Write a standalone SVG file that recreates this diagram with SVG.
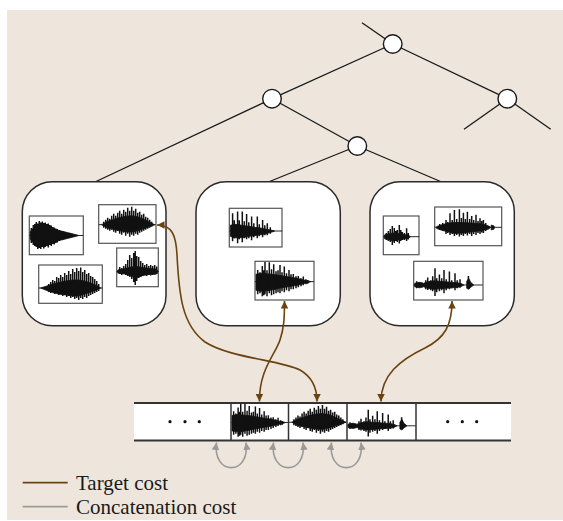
<svg xmlns="http://www.w3.org/2000/svg" xmlns:xlink="http://www.w3.org/1999/xlink" width="563" height="521" viewBox="0 0 563 521">
  <style>
    .edge { stroke: #1a1a1a; stroke-width: 1.3; fill: none; }
    .tn { fill: #ffffff; stroke: #1a1a1a; stroke-width: 1.4; }
    .cluster { fill: #ffffff; stroke: #2a2a2a; stroke-width: 1.5; }
    .unit { fill: #ffffff; stroke: #555555; stroke-width: 1.2; }
    .base { stroke: #111111; stroke-width: 0.9; fill: none; }
    .body { fill: #111111; stroke: #111111; stroke-width: 0.8; stroke-linejoin: miter; }
    .sp { stroke: #111111; stroke-width: 1.5; fill: none; }
    .target { stroke: #6b4311; stroke-width: 1.6; fill: none; }
    .concat { stroke: #9a9a9a; stroke-width: 1.6; fill: none; }
    .rail { stroke: #333333; stroke-width: 1.8; }
    .div { stroke: #333333; stroke-width: 1.5; }
    .dot { fill: #111111; }
    .lbl { font-family: "Liberation Serif", "Times New Roman", serif; font-size: 21px; fill: #1a1a1a; }
  </style>
  <defs>
    <marker id="ahT" viewBox="0 0 10 10" refX="10" refY="5" markerWidth="7.5" markerHeight="7.5" orient="auto-start-reverse" markerUnits="userSpaceOnUse">
      <path d="M0,0 L10,5 L0,10 z" fill="#6b4311"/>
    </marker>
    <marker id="ahC" viewBox="0 0 10 10" refX="10" refY="5" markerWidth="7.5" markerHeight="7.5" orient="auto-start-reverse" markerUnits="userSpaceOnUse">
      <path d="M0,0 L10,5 L0,10 z" fill="#9a9a9a"/>
    </marker>

    <!-- waveform A: 54 x 39 -->
    <g id="wfA">
      <path class="base" d="M0,19.5 H54"/>
      <path class="body" d="M1,16 L3,13 L6,11.5 L10,10.5 L15,11 L20,12 L26,13.5 L32,15 L38,16.5 L44,18 L49,19.3 L49,19.7 L44,21 L38,22.5 L32,24 L26,25.5 L20,27 L15,28 L10,28.5 L6,27.5 L3,26 L1,23 Z"/>
      <path class="sp" d="M2,12V27 M4,9V29 M5.5,8V30 M7,6V31 M8.5,7.5V33 M10,5V32 M11.5,6.5V33 M13,5.5V31 M14.5,7V32.5 M16,6.5V31 M17.5,8V30 M19,7.5V31.5 M20.5,9V29 M22,9.5V30 M23.5,11V28 M25,11.5V28.5 M26.5,12.5V27 M28,13V26.5 M30,14V25 M32,15V24 M34,15.5V23.5 M36,16V23 M38.5,17V22 M41,17.5V21.5"/>
    </g>
    <!-- waveform B: 57 x 39 -->
    <g id="wfB">
      <path class="base" d="M0,20 H57"/>
      <path class="body" d="M3,20 L8,17 L14,15 L20,13 L27,11.5 L33,11 L39,12 L45,14.5 L51,17.5 L56,20 L51,22 L45,24 L39,26 L33,27.5 L27,27 L20,26 L14,24.5 L8,23 Z"/>
      <path class="sp" d="M5,17V23 M7,15V24 M9,13V25 M11,14V26 M13,11V25 M15,9V27 M17,11V28 M19,8V26 M21,6V29 M23,9V30 M25,5V28 M27,7V31 M29,3V29 M31,6V32 M33,2V30 M35,6V31 M37,4V29 M39,8V30 M41,7V28 M43,10V27 M45,9V26 M47,12V25 M49,13V24 M51,15V23 M53,17V22"/>
    </g>
    <!-- waveform C: 64 x 38 -->
    <g id="wfC">
      <path class="base" d="M0,23 H64"/>
      <path class="body" d="M2,23 L8,21 L14,19 L20,17.5 L27,16 L34,15 L40,15 L46,16 L52,18 L58,20.5 L62,23 L58,25 L52,27 L46,29 L40,31 L34,31 L27,30 L20,29 L14,27.5 L8,25.5 Z"/>
      <path class="sp" d="M10,19V27 M12,17V28 M14,15V27 M16,16V29 M18,12V28 M20,13V30 M22,10V29 M24,12V31 M26,8V30 M28,10V32 M30,6V31 M32,9V33 M34,4V32 M36,7V34 M38,3V33 M40,6V35 M42,2.5V33 M44,7V34 M46,5V32 M48,9V33 M50,8V31 M52,11V30 M54,12V29 M56,14V28 M58,16V27 M60,19V26"/>
    </g>
    <!-- waveform D: 42 x 39 -->
    <g id="wfD">
      <path class="base" d="M0,23.5 H42"/>
      <path class="body" d="M1,22 L8,20.5 L14,19 L20,18.5 L26,19.5 L32,20.5 L40,21 L41,23.5 L40,26 L32,26.5 L26,27.5 L20,30 L14,28 L8,26 L1,25 Z"/>
      <path class="sp" d="M3,19V26 M5,20V27 M7,18V26 M9,16V27 M11,12V28 M13,7V29 M15,10V31 M17,5V34 M18.5,3V37 M20,8V33 M22,9V30 M24,13V29 M26,15V28 M28,17V27 M30,16V28 M32,18V27 M34,17V27.5 M36,18V27 M38,17V26.5 M40,18.5V26"/>
    </g>
    <!-- waveform E: 53 x 39 -->
    <g id="wfE">
      <path class="base" d="M0,22.7 H53"/>
      <path class="body" d="M1,17 L5,16 L10,16.5 L15,17.5 L20,18 L25,19 L30,19.5 L35,20.5 L40,21.5 L45,22.5 L45,23 L40,24.5 L35,26 L30,26.5 L25,27.5 L20,28 L15,29 L10,29.5 L5,29.5 L1,28 Z"/>
      <path class="sp" d="M3.3,5V33 M5,12V30 M8.3,3.3V35 M10,12V31 M13,3.3V34 M15,13V30 M17.3,5.7V31 M19.5,14V30 M22.3,8.3V32 M24.5,15V29 M28,8.3V30 M30,16V28 M33.3,11.7V29 M35.5,17V27 M38,15V27 M41,19V25.5"/>
    </g>
    <!-- waveform F: 59 x 39 -->
    <g id="wfF">
      <path class="base" d="M0,20.3 H59"/>
      <path class="body" d="M1,13 L6,12 L12,12.5 L18,13 L24,14 L30,15 L36,16 L42,17 L48,18.5 L54,19.8 L56,20.3 L54,21 L48,22.5 L42,24 L36,25 L30,26 L24,27 L18,28.5 L12,29.5 L6,30 L1,29 Z"/>
      <path class="sp" d="M2.7,8.7V33 M5,11V32 M7.3,4.7V35 M8.8,9V34 M10,0.8V33 M12,9V35 M14.3,1V32 M16.5,8V34 M18.7,3V33 M21,10V32 M23,9V31 M25,3.7V32 M27,11V30 M29.3,5.3V31 M31.5,12V29 M34,8.7V30 M36,13V28 M38.3,12.7V28 M41,15V27 M43.3,14.7V26 M46,17V25 M48.3,15.3V24 M51,18V23 M52.7,18.7V22.5"/>
    </g>
    <!-- waveform G: 36 x 39 -->
    <g id="wfG">
      <path class="base" d="M0,20.7 H36"/>
      <path class="body" d="M1,19 L5,18 L10,17 L15,17.5 L20,18.5 L25,19 L27,20.7 L25,22.5 L20,23 L15,24 L10,25 L5,23.5 L1,22.5 Z"/>
      <path class="sp" d="M3,17V24 M5,15V25 M7,13V26 M9,10V29 M11,12V27 M12.5,15V25 M14,14V26 M16,9V27.5 M17.5,14V25 M19,16V24 M21,17V24 M23.3,12.3V25 M25,17V23.5"/>
    </g>
    <!-- waveform H: 67 x 39 -->
    <g id="wfH">
      <path class="base" d="M0,20.3 H67"/>
      <path class="body" d="M2,19.5 L8,17.5 L14,16 L20,15.5 L28,15.5 L36,16 L44,16.5 L50,17.5 L54,19 L56,20.3 L54,22 L50,23 L44,24 L36,25 L28,26 L20,26.5 L14,25 L8,23.5 L2,21.5 Z M56.5,18 L59.5,19 L59.5,22 L56.5,23 Z"/>
      <path class="sp" d="M5,17V23 M8,16V24 M11.3,13V27 M13,15V26 M15.3,6.3V28 M17.5,13V27 M19.7,3V29 M22,12V28 M24.7,2.3V29.5 M26.7,11V28 M28.7,5.7V29 M30.7,12V27 M32.7,4.7V28.5 M35,12V27 M37,9V29 M39,13V27 M41.3,7.7V28 M43.3,14V26 M45.3,11.3V27 M47,14V25.5 M48.7,13V26 M51,16V24"/>
    </g>
    <!-- waveform I: 69 x 39 -->
    <g id="wfI">
      <path class="base" d="M0,23.7 H69"/>
      <path class="body" d="M1,22 L6,21 L10,22 L14,20.5 L20,19.5 L26,20 L32,20.5 L38,21 L44,21.5 L48,22.5 L50,23.7 L48,25 L44,26 L38,26.5 L32,27 L26,27.5 L20,28 L14,27 L10,25.5 L6,26.5 L1,25.5 Z M53,20 L55,17 L57,21 L60,23.7 L57,26 L55,28 L53,27 Z"/>
      <path class="sp" d="M3,20V27 M5,21V26 M8,21.5V26 M12,19V28 M14,16.3V28.7 M17,19V29 M19,15V30 M21.3,7V34.7 M23,17V31 M25.7,13.3V30 M28,17V29 M30.3,8.7V32 M32.5,18V29 M35.7,10.3V28 M38,19V27 M41.3,12V29 M43.5,19V27 M46.3,18V26.5 M54.7,14.7V27"/>
    </g>
  </defs>

  <!-- panel background -->
  <rect x="7" y="10" width="556" height="510" fill="#eee6dc"/>

  <!-- tree edges -->
  <g id="tree-edges">
    <line class="edge" x1="362" y1="22.7" x2="392.7" y2="44"/>
    <line class="edge" x1="392.7" y1="44" x2="272" y2="98.7"/>
    <line class="edge" x1="392.7" y1="44" x2="507.3" y2="98.7"/>
    <line class="edge" x1="507.3" y1="98.7" x2="464" y2="129.3"/>
    <line class="edge" x1="507.3" y1="98.7" x2="550.7" y2="129.3"/>
    <line class="edge" x1="272" y1="98.7" x2="95" y2="182"/>
    <line class="edge" x1="272" y1="98.7" x2="357.3" y2="146"/>
    <line class="edge" x1="357.3" y1="146" x2="268.3" y2="182"/>
    <line class="edge" x1="357.3" y1="146" x2="441.7" y2="182"/>
  </g>

  <!-- tree nodes -->
  <g id="node-root"><circle class="tn" cx="392.7" cy="44" r="9.3"/></g>
  <g id="node-left"><circle class="tn" cx="272" cy="98.7" r="9.3"/></g>
  <g id="node-right"><circle class="tn" cx="507.3" cy="98.7" r="9.3"/></g>
  <g id="node-mid"><circle class="tn" cx="357.3" cy="146" r="9.3"/></g>

  <!-- leaf clusters of units -->
  <g id="cluster-1">
    <rect class="cluster" x="22.3" y="181.7" width="143.7" height="144" rx="30"/>
    <rect class="unit" x="29.3" y="216" width="54" height="38.7"/>
    <use xlink:href="#wfA" href="#wfA" x="29.3" y="216"/>
    <rect class="unit" x="98.7" y="204.7" width="57.3" height="38.6"/>
    <use xlink:href="#wfB" href="#wfB" x="98.7" y="204.7"/>
    <rect class="unit" x="38.7" y="265" width="63.6" height="38.3"/>
    <use xlink:href="#wfC" href="#wfC" x="38.7" y="265"/>
    <rect class="unit" x="116.7" y="248" width="41.6" height="38.7"/>
    <use xlink:href="#wfD" href="#wfD" x="116.7" y="248"/>
  </g>
  <g id="cluster-2">
    <rect class="cluster" x="196" y="181.7" width="144.3" height="144" rx="30"/>
    <rect class="unit" x="229.3" y="208.3" width="52.7" height="38.7"/>
    <use xlink:href="#wfE" href="#wfE" x="229.3" y="208.3"/>
    <rect class="unit" x="255" y="261.3" width="59" height="38.7"/>
    <use xlink:href="#wfF" href="#wfF" x="255" y="261.3"/>
  </g>
  <g id="cluster-3">
    <rect class="cluster" x="370" y="181.7" width="144.3" height="144" rx="30"/>
    <rect class="unit" x="383.3" y="216" width="35.7" height="38.7"/>
    <use xlink:href="#wfG" href="#wfG" x="383.3" y="216"/>
    <rect class="unit" x="434.7" y="207" width="67" height="38.7"/>
    <use xlink:href="#wfH" href="#wfH" x="434.7" y="207"/>
    <rect class="unit" x="413.7" y="261.3" width="69.3" height="38.7"/>
    <use xlink:href="#wfI" href="#wfI" x="413.7" y="261.3"/>
  </g>

  <!-- selected unit sequence -->
  <g id="sequence">
    <rect x="134" y="403" width="377" height="37.5" fill="#ffffff"/>
    <g id="cell-1">
      <circle class="dot" cx="170" cy="421.7" r="1.6"/>
      <circle class="dot" cx="185" cy="421.7" r="1.6"/>
      <circle class="dot" cx="199.3" cy="421.7" r="1.6"/>
    </g>
    <g id="cell-2">
      <use xlink:href="#wfF" href="#wfF" transform="translate(231,403) scale(0.975,0.962)"/>
    </g>
    <g id="cell-3">
      <use xlink:href="#wfB" href="#wfB" transform="translate(288.8,403) scale(1.02,0.962)"/>
    </g>
    <g id="cell-4">
      <use xlink:href="#wfI" href="#wfI" transform="translate(347,403) scale(0.998,0.962)"/>
    </g>
    <g id="cell-5">
      <circle class="dot" cx="447.7" cy="421.7" r="1.6"/>
      <circle class="dot" cx="462.3" cy="421.7" r="1.6"/>
      <circle class="dot" cx="476.7" cy="421.7" r="1.6"/>
    </g>
    <line class="div" x1="231" y1="403" x2="231" y2="440.5"/>
    <line class="div" x1="288.5" y1="403" x2="288.5" y2="440.5"/>
    <line class="div" x1="347" y1="403" x2="347" y2="440.5"/>
    <line class="div" x1="416" y1="403" x2="416" y2="440.5"/>
    <line class="rail" x1="134" y1="403" x2="511" y2="403"/>
    <line class="rail" x1="134" y1="440.5" x2="511" y2="440.5"/>
  </g>

  <!-- cost connectors -->
  <g id="connectors">
    <path class="target" marker-start="url(#ahT)" marker-end="url(#ahT)" d="M157,225 C172,225 176,235 177,255 C179,295 182,325 205,342 C230,358 280,360 300,370 C314,378 317,390 317,401.5"/>
    <path class="target" marker-start="url(#ahT)" marker-end="url(#ahT)" d="M259.5,401.5 C259,370 275,355 280,340 C284,328 284.5,318 284.5,301"/>
    <path class="target" marker-start="url(#ahT)" marker-end="url(#ahT)" d="M381,401.5 C381,375 400,360 425,348 C445,338 452,325 452,301"/>
    <path class="concat" marker-start="url(#ahC)" marker-end="url(#ahC)" d="M216.5,442.5 C212,476 250.5,476 246,442.5"/>
    <path class="concat" marker-start="url(#ahC)" marker-end="url(#ahC)" d="M273.5,442.5 C269,476 307.5,476 303,442.5"/>
    <path class="concat" marker-start="url(#ahC)" marker-end="url(#ahC)" d="M331.5,442.5 C327,476 365.5,476 361,442.5"/>
  </g>

  <!-- legend -->
  <g id="legend">
    <line x1="22.7" y1="482.7" x2="67.7" y2="482.7" stroke="#6b4311" stroke-width="1.8"/>
    <text class="lbl" x="76" y="490">Target cost</text>
    <line x1="22.7" y1="506.7" x2="67.7" y2="506.7" stroke="#9a9a9a" stroke-width="1.8"/>
    <text class="lbl" x="76" y="514">Concatenation cost</text>
  </g>
</svg>
